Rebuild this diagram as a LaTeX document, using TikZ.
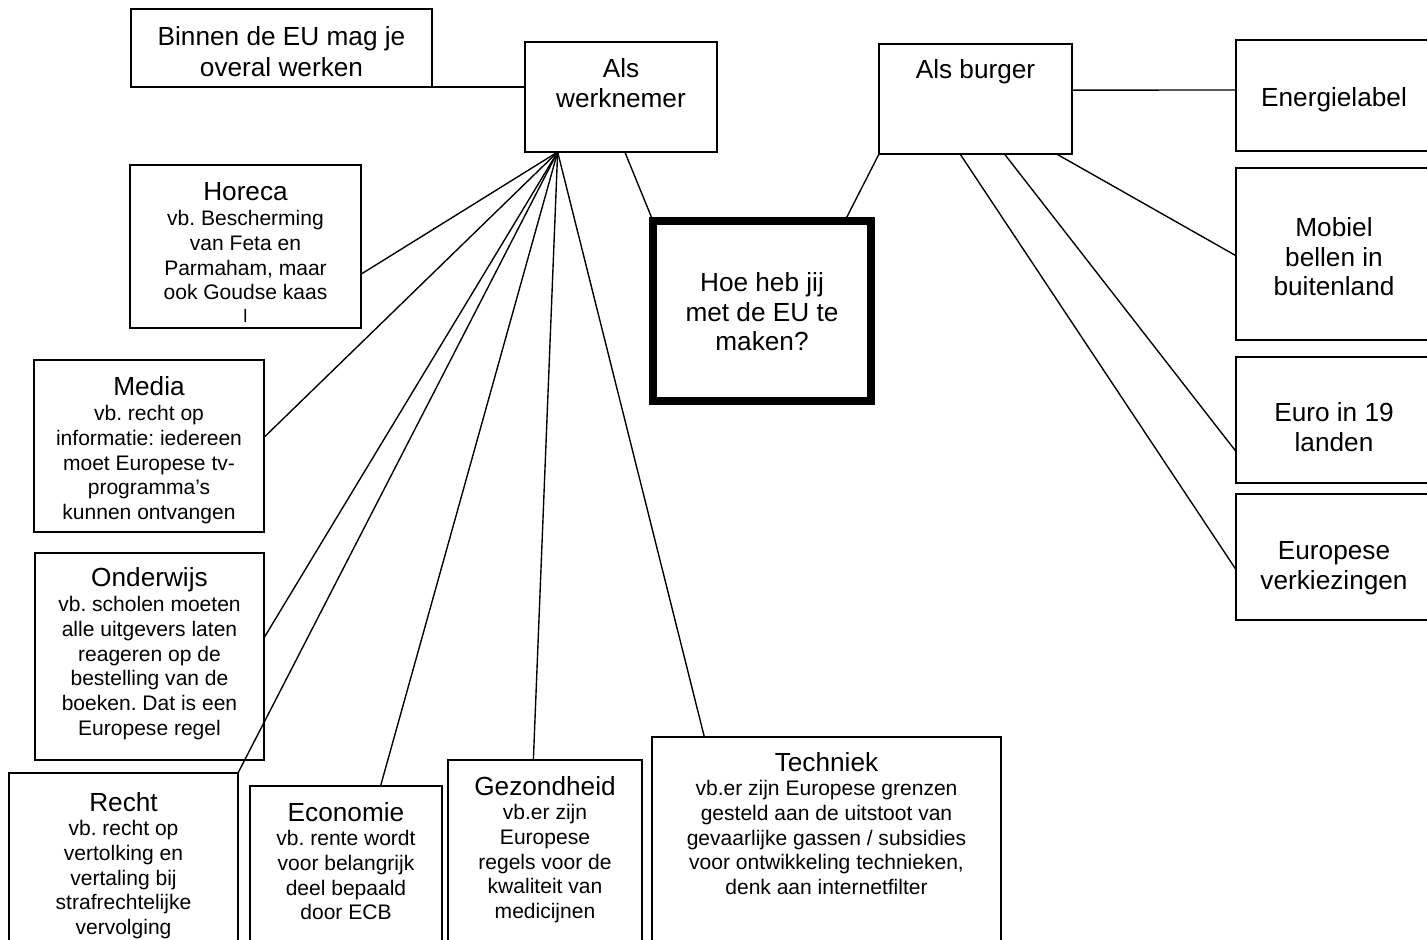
\documentclass[tikz,border=0pt]{standalone}
\usepackage{fontspec}
\setmainfont{Liberation Sans}
\usetikzlibrary{calc}
\frenchspacing
\newlength{\pxu}
\setlength{\pxu}{0.58pt}
\newcommand{\ttl}{\fontsize{15.2}{17}\selectfont}
\newcommand{\txt}{\fontsize{12.2}{14.35}\selectfont}
% box content: width, height, first baseline (all in px), text
\newcommand{\boxtext}[4]{\parbox[t][#2\pxu][t]{#1\pxu}{\centering\vspace*{\dimexpr#3\pxu-12pt\relax}\rule{0pt}{12pt}#4}}

\begin{document}
\begin{tikzpicture}[
    x=0.58pt, y=-0.58pt,
    topic/.style={rectangle, draw, line width=1pt, inner sep=0pt, outer sep=0pt, anchor=north west},
    central/.style={topic, line width=4.4pt},
    link/.style={line width=0.8pt}
]
\useasboundingbox (0,0) rectangle (1427,940);
\clip (0,0) rectangle (1427,940);

% Centre
\node[central] (hoe) at (653,221) {\boxtext{218}{180}{71}{\ttl Hoe heb jij\\met de EU te\\maken?}};

% Als werknemer
\node[topic] (werk) at (525,42) {\boxtext{192}{110}{36}{\ttl Als\\werknemer}};
\node[topic] (binnen) at (131,9) {\boxtext{301}{78}{37}{\fontsize{15.2}{17.5}\selectfont Binnen de EU mag je\\overal werken}};
\node[topic] (horeca) at (130,165) {\boxtext{231}{163}{36}{{\ttl Horeca\par}\txt vb. Bescherming\\van Feta en\\Parmaham, maar\\ook Goudse kaas\\[-1.5pt]{\fontsize{10.5}{11}\selectfont l}}};
\node[topic] (media) at (34,360) {\boxtext{230}{172}{36}{{\ttl Media\par}\txt vb. recht op\\informatie: iedereen\\moet Europese tv-\\programma’s\\kunnen ontvangen}};
\node[topic] (onderwijs) at (35,553) {\boxtext{229}{207}{34}{{\ttl Onderwijs\par}\txt vb. scholen moeten\\alle uitgevers laten\\reageren op de\\bestelling van de\\boeken. Dat is een\\Europese regel}};
\node[topic] (recht) at (9,773) {\boxtext{229}{190}{38}{{\ttl Recht\par}\txt vb. recht op\\vertolking en\\vertaling bij\\strafrechtelijke\\vervolging}};
\node[topic] (economie) at (250,786) {\boxtext{192}{180}{35}{{\ttl Economie\par}\txt vb. rente wordt\\voor belangrijk\\deel bepaald\\door ECB}};
\node[topic] (gezondheid) at (448,760) {\boxtext{194}{200}{35}{{\ttl Gezondheid\par}\txt vb.er zijn\\Europese\\regels voor de\\kwaliteit van\\medicijnen}};
\node[topic] (techniek) at (652,737) {\boxtext{349}{220}{34}{{\ttl Techniek\par}\txt vb.er zijn Europese grenzen\\gesteld aan de uitstoot van\\gevaarlijke gassen / subsidies\\voor ontwikkeling technieken,\\denk aan internetfilter}};

% Als burger
\node[topic] (burger) at (879,44) {\boxtext{193}{110}{35}{\ttl Als burger}};
\node[topic] (energie) at (1236,40) {\boxtext{196}{111}{67}{\ttl Energielabel}};
\node[topic] (mobiel) at (1236,168) {\boxtext{196}{172}{69}{\ttl Mobiel\\bellen in\\buitenland}};
\node[topic] (euro) at (1236,357) {\boxtext{196}{126}{65}{\ttl Euro in 19\\landen}};
\node[topic] (verkiezing) at (1236,494) {\boxtext{196}{126}{66}{\ttl Europese\\verkiezingen}};

% Links
\coordinate (hub) at ($(werk.south west)!0.17!(werk.south east)$);
\draw[link] ($(werk.south west)!0.52!(werk.south east)$) -- (hoe.north west);
\draw[link] (burger.south west) -- ($(hoe.north west)!0.88!(hoe.north east)$);
\draw[link] (binnen.south east) -- (binnen.south east -| werk.west);
\draw[link] (hub) -- ($(horeca.north east)!0.67!(horeca.south east)$);
\draw[link] (hub) -- ($(media.north east)!0.45!(media.south east)$);
\draw[link] (hub) -- ($(onderwijs.north east)!0.41!(onderwijs.south east)$);
\draw[link] (hub) -- (recht.north east);
\draw[link] (hub) -- ($(economie.north west)!0.68!(economie.north east)$);
\draw[link] (hub) -- ($(gezondheid.north west)!0.44!(gezondheid.north east)$);
\draw[link] (hub) -- ($(techniek.north west)!0.15!(techniek.north east)$);
\draw[link] ($(burger.north east)!0.42!(burger.south east)$) -- ($(energie.north west)!0.45!(energie.south west)$);
\draw[link] ($(burger.south west)!0.92!(burger.south east)$) -- ($(mobiel.north west)!0.51!(mobiel.south west)$);
\draw[link] ($(burger.south west)!0.65!(burger.south east)$) -- ($(euro.north west)!0.75!(euro.south west)$);
\draw[link] ($(burger.south west)!0.42!(burger.south east)$) -- ($(verkiezing.north west)!0.6!(verkiezing.south west)$);

\end{tikzpicture}
\end{document}
